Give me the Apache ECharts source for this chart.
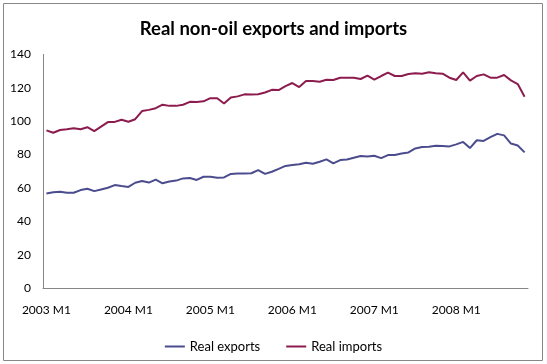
<!DOCTYPE html>
<html>
<head>
<meta charset="utf-8">
<style>html,body{margin:0;padding:0;background:#fff;}#c{width:547px;height:364px;}</style>
<script src="https://cdn.jsdelivr.net/npm/echarts@6/dist/echarts.min.js"></script>
</head>
<body>
<div id="c"></div>
<script>
const years = [2003, 2004, 2005, 2006, 2007, 2008];
const categories = [];
years.forEach(y => { for (let m = 1; m <= 12; m++) { if (y === 2008 && m > 11) break; categories.push(y + ' M' + m); } });

const realExports = [56.7,57.4,57.7,57.1,57.1,58.7,59.5,58.1,59.1,60.1,61.7,61.1,
  60.6,63.1,64.1,63.2,65.0,62.8,63.8,64.4,65.7,66.0,64.8,66.7,
  66.7,66.1,66.3,68.4,68.6,68.6,68.8,70.7,68.4,69.7,71.4,73.2,
  73.8,74.2,75.1,74.5,75.7,77.1,74.7,76.7,77.1,78.1,79.1,78.9,
  79.3,77.9,79.7,79.7,80.6,81.3,83.7,84.5,84.7,85.3,85.1,84.9,
  86.1,87.6,83.9,88.6,88.2,90.4,92.4,91.5,86.6,85.4,81.3];
const realImports = [94.5,93.1,94.7,95.2,95.8,95.2,96.4,94.1,96.8,99.5,99.6,100.9,
  99.7,101.2,106.1,106.8,107.8,109.9,109.2,109.2,109.9,111.6,111.5,111.9,
  113.8,113.8,110.6,114.2,114.9,116.1,116.0,116.2,117.2,118.8,118.7,121.0,
  122.9,120.5,124.1,124.1,123.7,124.9,124.7,126.1,126.1,126.1,125.3,127.3,
  124.9,127.1,129.1,127.1,127.1,128.3,128.7,128.5,129.3,128.7,128.5,126.1,
  124.7,129.3,124.3,127.1,128.1,126.1,126.1,127.7,124.5,122.3,114.7];
const yTicks = [0, 20, 40, 60, 80, 100, 120, 140];

const font = 'Lato, "Open Sans", sans-serif';
const chart = echarts.init(document.getElementById('c'), null, {renderer: 'canvas'});
chart.setOption({
  animation: false,
  backgroundColor: '#fff',
  textStyle: {fontFamily: font},
  title: {
    text: 'Real non-oil exports and imports',
    left: 'center', top: 15,
    textStyle: {fontFamily: font, fontSize: 18.5, fontWeight: 'bold', color: '#000'}
  },
  graphic: [{
    type: 'rect', silent: true,
    shape: {x: 3.5, y: 3.5, width: 539, height: 357},
    style: {fill: 'none', stroke: '#888', lineWidth: 1}
  }],
  legend: {
    bottom: 6, left: 'center',
    icon: 'rect', itemWidth: 20, itemHeight: 2, itemGap: 26,
    textStyle: {fontFamily: font, fontSize: 13, color: '#000'},
    data: ['Real exports', 'Real imports']
  },
  grid: {left: 43, right: 19, top: 54.5, bottom: 76, containLabel: false},
  xAxis: {
    type: 'category', data: categories, boundaryGap: true,
    axisLine: {lineStyle: {color: '#868686', width: 1}},
    axisTick: {show: false},
    axisLabel: {interval: 11, color: '#000', fontFamily: font, fontSize: 12, margin: 16}
  },
  yAxis: {
    type: 'value', min: yTicks[0], max: yTicks[yTicks.length - 1], interval: 20,
    splitLine: {show: false},
    axisLine: {show: true, lineStyle: {color: '#868686', width: 1}},
    axisTick: {show: false},
    axisLabel: {color: '#000', fontFamily: font, fontSize: 12, margin: 12}
  },
  series: [
    {name: 'Real exports', type: 'line', data: realExports, symbol: 'none',
     lineStyle: {color: '#4B4C8D', width: 2}, itemStyle: {color: '#4B4C8D'}},
    {name: 'Real imports', type: 'line', data: realImports, symbol: 'none',
     lineStyle: {color: '#8C1B4E', width: 2}, itemStyle: {color: '#8C1B4E'}}
  ]
});
</script>
</body>
</html>
